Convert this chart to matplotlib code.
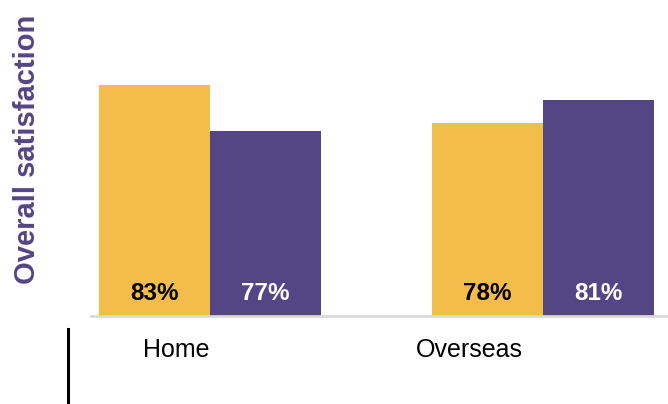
import numpy as np
import matplotlib.pyplot as plt
from matplotlib.lines import Line2D

plt.rcParams['font.family'] = ['Liberation Sans', 'DejaVu Sans']

# data
categories = ['Home', 'Overseas']
series_a = [83, 78]   # yellow
series_b = [77, 81]   # purple

YELLOW = '#F4BC4A'
PURPLE = '#544685'

fig = plt.figure(figsize=(6.68, 4.04), dpi=100)
ax = fig.add_axes([0.136, 0.2178, 0.864, 0.7572])

x = np.arange(len(categories))
w = 0.333
bars_a = ax.bar(x - w / 2, series_a, width=w, color=YELLOW, bottom=0)
bars_b = ax.bar(x + w / 2, series_b, width=w, color=PURPLE, bottom=0)

ax.set_ylim(52.6, 92.9)
ax.set_xlim(-0.357, 1.375)

for bars, col in [(bars_a, 'black'), (bars_b, 'white')]:
    for b in bars:
        ax.text(b.get_x() + b.get_width() / 2, 52.6 + 3.0, f'{b.get_height():.0f}%',
                ha='center', va='center', fontsize=17.5, fontweight='bold', color=col)

for s in ['top', 'right', 'left']:
    ax.spines[s].set_visible(False)
ax.spines['bottom'].set_color('#d9d9d9')
ax.spines['bottom'].set_linewidth(2)
ax.set_yticks([])

# category labels sit left of the group centres in the original
ax.set_xticks(x - 0.1 - 0.12 * x, categories)
ax.tick_params(axis='x', length=0, pad=16, labelsize=18)

fig.text(0.04, 0.63, 'Overall satisfaction', rotation=90, ha='center', va='center',
         fontsize=21, fontweight='bold', color=PURPLE)

# stray vertical rule at bottom left
fig.add_artist(Line2D([0.102, 0.102], [0.0, 0.185], color='black', linewidth=2.2))

fig.savefig('out.png', dpi=100, facecolor='white')
